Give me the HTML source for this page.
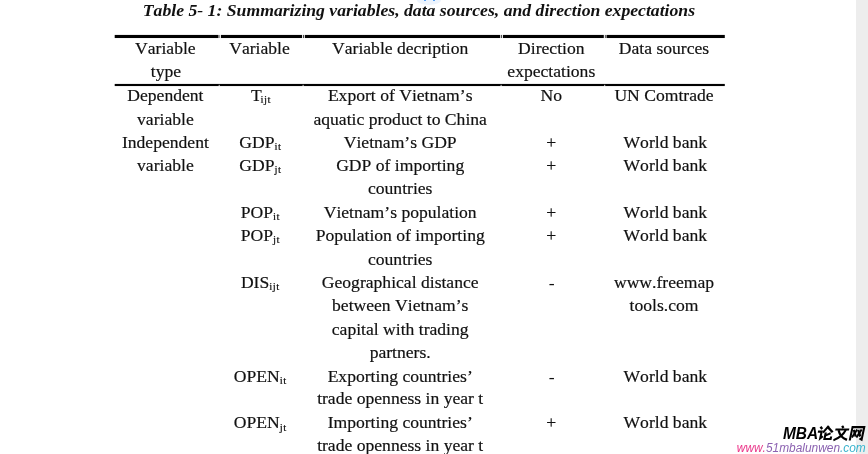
<!DOCTYPE html>
<html><head><meta charset="utf-8"><title>Table 5-1</title>
<style>
html,body{margin:0;padding:0;background:#fff;}
body{width:868px;height:454px;position:relative;overflow:hidden;font-family:"Liberation Serif",serif;color:#111;}
.t{-webkit-text-stroke:0.2px #111;position:absolute;text-align:center;white-space:nowrap;font-kerning:none;font-size:17.6px;line-height:23.37px;height:23.37px;}
.t sub{font-size:10.9px;vertical-align:baseline;position:relative;top:2.1px;line-height:0;letter-spacing:0.45px;-webkit-text-stroke:0.2px #111;}
.title{font-kerning:none;position:absolute;left:0;top:-1px;width:837.9px;text-align:center;font-weight:bold;font-style:italic;font-size:17.68px;line-height:22px;white-space:nowrap;color:#111;}
.hr{position:absolute;background:#000;}
.side{position:absolute;left:856px;top:0;width:12px;height:454px;background:#ededed;}
</style></head><body><div id="wrap" style="position:absolute;left:0;top:0;width:868px;height:454px;will-change:transform;opacity:0.999">
<div class="side"></div>
<div style="position:absolute;left:417px;top:-5px;width:24px;height:10px;border-radius:50%;background:#edf4fd"></div>
<div style="position:absolute;left:424px;top:-1px;width:2px;height:2px;background:#5aa2f3"></div>
<div style="position:absolute;left:433px;top:-1px;width:2px;height:2px;background:#5aa2f3"></div>
<div class="title">Table 5- 1: Summarizing variables, data sources, and direction expectations</div>
<svg style="position:absolute;left:0;top:30px" width="868" height="60" viewBox="0 30 868 60">
<rect x="114.7" y="34.92" width="610.1" height="3.12" fill="#000"/>
<rect x="114.7" y="83.92" width="610.1" height="2.14" fill="#000"/>
<g fill="#fff">
<rect x="218.5" y="34" width="1.1" height="5"/><rect x="220.1" y="34" width="0.9" height="5"/>
<rect x="302.1" y="34" width="1.1" height="5"/><rect x="303.9" y="34" width="0.9" height="5"/>
<rect x="500.2" y="34" width="1.1" height="5"/><rect x="502.0" y="34" width="0.9" height="5"/>
<rect x="603.8" y="34" width="1.1" height="5"/><rect x="605.6" y="34" width="0.9" height="5"/>
<rect x="218.7" y="84.8" width="1" height="2" opacity="0.85"/>
<rect x="302.6" y="84.8" width="1" height="2" opacity="0.85"/>
<rect x="500.6" y="84.8" width="1" height="2" opacity="0.85"/>
<rect x="604.2" y="84.8" width="1" height="2" opacity="0.85"/>
</g></svg>

<div class="t" style="left:113.4px;width:104.0px;top:36.50px">Variable</div>
<div class="t" style="left:113.4px;width:104.0px;top:59.87px"><span style="margin-left:1.2px">type</span></div>
<div class="t" style="left:217.5px;width:84.0px;top:36.50px">Variable</div>
<div class="t" style="left:301.4px;width:197.6px;top:36.50px">Variable decription</div>
<div class="t" style="left:499.8px;width:103.0px;top:36.50px">Direction</div>
<div class="t" style="left:499.8px;width:103.0px;top:59.87px">expectations</div>
<div class="t" style="left:603.5px;width:121.0px;top:36.50px">Data sources</div>
<div class="t" style="left:113.4px;width:104.0px;top:84.24px">Dependent</div>
<div class="t" style="left:113.4px;width:104.0px;top:107.54px">variable</div>
<div class="t" style="left:113.4px;width:104.0px;top:130.84px">Independent</div>
<div class="t" style="left:113.4px;width:104.0px;top:154.14px">variable</div>
<div class="t" style="left:218.3px;width:84.0px;top:84.24px"><span style="margin-left:1.2px;margin-right:-1.2px">T</span><sub>ijt</sub></div>
<div class="t" style="left:218.3px;width:84.0px;top:130.84px">GDP<sub>it</sub></div>
<div class="t" style="left:218.3px;width:84.0px;top:154.14px">GDP<sub>jt</sub></div>
<div class="t" style="left:218.3px;width:84.0px;top:200.74px">POP<sub>it</sub></div>
<div class="t" style="left:218.3px;width:84.0px;top:224.04px">POP<sub>jt</sub></div>
<div class="t" style="left:218.3px;width:84.0px;top:270.64px">DIS<sub>ijt</sub></div>
<div class="t" style="left:218.3px;width:84.0px;top:364.84px">OPEN<sub>it</sub></div>
<div class="t" style="left:218.3px;width:84.0px;top:411.44px">OPEN<sub>jt</sub></div>
<div class="t" style="left:301.4px;width:197.6px;top:84.24px">Export of Vietnam’s</div>
<div class="t" style="left:301.4px;width:197.6px;top:107.54px">aquatic product to China</div>
<div class="t" style="left:301.4px;width:197.6px;top:130.84px">Vietnam’s GDP</div>
<div class="t" style="left:301.4px;width:197.6px;top:154.14px">GDP of importing</div>
<div class="t" style="left:301.4px;width:197.6px;top:177.44px">countries</div>
<div class="t" style="left:301.4px;width:197.6px;top:200.74px">Vietnam’s population</div>
<div class="t" style="left:301.4px;width:197.6px;top:224.04px">Population of importing</div>
<div class="t" style="left:301.4px;width:197.6px;top:248.34px">countries</div>
<div class="t" style="left:301.4px;width:197.6px;top:270.64px">Geographical distance</div>
<div class="t" style="left:301.4px;width:197.6px;top:293.94px">between Vietnam’s</div>
<div class="t" style="left:301.4px;width:197.6px;top:318.24px">capital with trading</div>
<div class="t" style="left:301.4px;width:197.6px;top:340.54px">partners.</div>
<div class="t" style="left:301.4px;width:197.6px;top:364.84px">Exporting countries’</div>
<div class="t" style="left:301.4px;width:197.6px;top:387.14px">trade openness in year t</div>
<div class="t" style="left:301.4px;width:197.6px;top:411.44px">Importing countries’</div>
<div class="t" style="left:301.4px;width:197.6px;top:433.74px">trade openness in year t</div>
<div class="t" style="left:499.8px;width:103.0px;top:84.24px">No</div>
<div class="t" style="left:499.8px;width:103.0px;top:130.84px">+</div>
<div class="t" style="left:499.8px;width:103.0px;top:154.14px">+</div>
<div class="t" style="left:499.8px;width:103.0px;top:200.74px">+</div>
<div class="t" style="left:499.8px;width:103.0px;top:224.04px">+</div>
<div class="t" style="left:499.8px;width:103.0px;top:270.64px"><span style="-webkit-text-stroke:0;position:relative;top:1.5px;left:0.4px">-</span></div>
<div class="t" style="left:499.8px;width:103.0px;top:364.84px"><span style="-webkit-text-stroke:0;position:relative;top:0.8px;left:0.4px">-</span></div>
<div class="t" style="left:499.8px;width:103.0px;top:411.44px">+</div>
<div class="t" style="left:603.5px;width:121.0px;top:84.24px">UN Comtrade</div>
<div class="t" style="left:603.5px;width:121.0px;top:130.84px"><span style="margin-left:2.6px">World bank</span></div>
<div class="t" style="left:603.5px;width:121.0px;top:154.14px"><span style="margin-left:2.6px">World bank</span></div>
<div class="t" style="left:603.5px;width:121.0px;top:200.74px"><span style="margin-left:2.6px">World bank</span></div>
<div class="t" style="left:603.5px;width:121.0px;top:224.04px"><span style="margin-left:2.6px">World bank</span></div>
<div class="t" style="left:603.5px;width:121.0px;top:270.64px">www.freemap</div>
<div class="t" style="left:603.5px;width:121.0px;top:293.94px">tools.com</div>
<div class="t" style="left:603.5px;width:121.0px;top:364.84px"><span style="margin-left:2.6px">World bank</span></div>
<div class="t" style="left:603.5px;width:121.0px;top:411.44px"><span style="margin-left:2.6px">World bank</span></div>

<svg style="position:absolute;left:728px;top:420px" width="140" height="34" viewBox="0 0 140 34">
<defs><linearGradient id="g" x1="0" x2="1" y1="0" y2="0">
<stop offset="0" stop-color="#ee2f86"/><stop offset="0.208" stop-color="#e6408e"/><stop offset="0.222" stop-color="#8d62b2"/><stop offset="0.795" stop-color="#8a62b0"/><stop offset="0.808" stop-color="#3cb2cc"/><stop offset="1" stop-color="#35b6d0"/></linearGradient></defs>
<text x="55.0" y="18.9" font-family="Liberation Sans, sans-serif" font-weight="bold" font-style="italic" font-size="16.6" fill="#000" style="font-kerning:none" textLength="35.2" lengthAdjust="spacingAndGlyphs">MBA</text>
<g fill="none" stroke="#000" stroke-width="14" stroke-linecap="butt" stroke-linejoin="miter">
<g transform="translate(90.9,5.6) skewX(-12) scale(0.155,0.152)">
<path d="M12 8 L26 22"/><path d="M2 40 H26 V84 L40 70"/>
<path d="M64 2 L36 46"/><path d="M60 10 L98 44"/>
<path d="M86 50 L58 64"/><path d="M54 46 V88 H94 V72"/>
</g>
<g transform="translate(107.6,5.6) skewX(-12) scale(0.150,0.152)">
<path d="M44 2 L56 16"/><path d="M4 26 H96"/>
<path d="M74 28 C66 58 44 80 6 96"/><path d="M26 30 C40 62 64 84 96 94"/>
</g>
<g transform="translate(123.1,5.6) skewX(-12) scale(0.150,0.152)">
<path d="M12 98 V10 H90 V92 L74 84"/>
<path d="M24 28 L46 72"/><path d="M46 26 L22 78"/>
<path d="M54 28 L76 72"/><path d="M76 26 L52 78"/>
</g>
</g>
<text x="8.8" y="32.15" font-family="Liberation Sans, sans-serif" font-style="italic" font-size="12" fill="url(#g)" style="font-kerning:none" textLength="129" lengthAdjust="spacingAndGlyphs">www.51mbalunwen.com</text>
</svg>

</div></body></html>
